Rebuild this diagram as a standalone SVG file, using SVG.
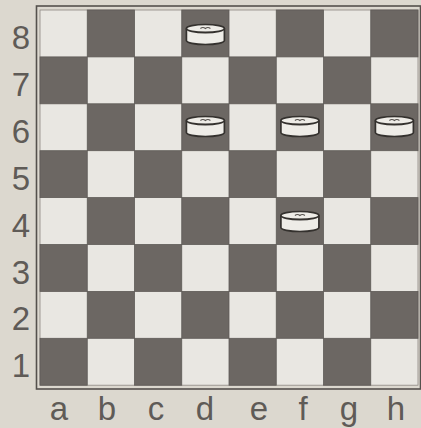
<svg xmlns="http://www.w3.org/2000/svg" width="421" height="428" viewBox="0 0 421 428">
<style>
.bg{fill:#dcd8cf}
.frame{fill:none;stroke:#55514d;stroke-width:1.6}
.lt{fill:#e9e7e2;stroke:#8d8883;stroke-width:0.8}
.dk{fill:#6c6763;stroke:#5f5b57;stroke-width:0.8}
.lbl{font-family:"Liberation Sans",Arial,sans-serif;font-size:33px;fill:#5f5b57;text-anchor:middle}
.pbody{fill:#eeece7;stroke:#34312e;stroke-width:1.7}
.pline{fill:none;stroke:#34312e;stroke-width:1.8}
.pmark{fill:none;stroke:#55514d;stroke-width:1.1}
</style>
<defs>
<g id="piece">
<path class="pbody" d="M-19,-6 A19,4 0 0 1 19,-6 L19,6 A19,4 0 0 1 -19,6 Z"/>
<path class="pline" d="M-19,-6 A19,4 0 0 0 19,-6"/>
<path class="pmark" d="M-5,-6 q2.5,-2 5,0 q2.5,-2 5,0"/>
</g>
</defs>
<rect class="bg" x="0" y="0" width="421" height="428"/>
<rect class="frame" x="36.5" y="6" width="384" height="383"/>
<g id="board">
<rect class="lt" x="40" y="10" width="378" height="375.2"/>
<!-- row 8 -->
<rect class="dk" x="87.25" y="10" width="47.25" height="46.9"/>
<rect class="dk" x="181.75" y="10" width="47.25" height="46.9"/>
<rect class="dk" x="276.25" y="10" width="47.25" height="46.9"/>
<rect class="dk" x="370.75" y="10" width="47.25" height="46.9"/>
<!-- row 7 -->
<rect class="dk" x="40" y="56.9" width="47.25" height="46.9"/>
<rect class="dk" x="134.5" y="56.9" width="47.25" height="46.9"/>
<rect class="dk" x="229" y="56.9" width="47.25" height="46.9"/>
<rect class="dk" x="323.5" y="56.9" width="47.25" height="46.9"/>
<!-- row 6 -->
<rect class="dk" x="87.25" y="103.8" width="47.25" height="46.9"/>
<rect class="dk" x="181.75" y="103.8" width="47.25" height="46.9"/>
<rect class="dk" x="276.25" y="103.8" width="47.25" height="46.9"/>
<rect class="dk" x="370.75" y="103.8" width="47.25" height="46.9"/>
<!-- row 5 -->
<rect class="dk" x="40" y="150.7" width="47.25" height="46.9"/>
<rect class="dk" x="134.5" y="150.7" width="47.25" height="46.9"/>
<rect class="dk" x="229" y="150.7" width="47.25" height="46.9"/>
<rect class="dk" x="323.5" y="150.7" width="47.25" height="46.9"/>
<!-- row 4 -->
<rect class="dk" x="87.25" y="197.6" width="47.25" height="46.9"/>
<rect class="dk" x="181.75" y="197.6" width="47.25" height="46.9"/>
<rect class="dk" x="276.25" y="197.6" width="47.25" height="46.9"/>
<rect class="dk" x="370.75" y="197.6" width="47.25" height="46.9"/>
<!-- row 3 -->
<rect class="dk" x="40" y="244.5" width="47.25" height="46.9"/>
<rect class="dk" x="134.5" y="244.5" width="47.25" height="46.9"/>
<rect class="dk" x="229" y="244.5" width="47.25" height="46.9"/>
<rect class="dk" x="323.5" y="244.5" width="47.25" height="46.9"/>
<!-- row 2 -->
<rect class="dk" x="87.25" y="291.4" width="47.25" height="46.9"/>
<rect class="dk" x="181.75" y="291.4" width="47.25" height="46.9"/>
<rect class="dk" x="276.25" y="291.4" width="47.25" height="46.9"/>
<rect class="dk" x="370.75" y="291.4" width="47.25" height="46.9"/>
<!-- row 1 -->
<rect class="dk" x="40" y="338.3" width="47.25" height="46.9"/>
<rect class="dk" x="134.5" y="338.3" width="47.25" height="46.9"/>
<rect class="dk" x="229" y="338.3" width="47.25" height="46.9"/>
<rect class="dk" x="323.5" y="338.3" width="47.25" height="46.9"/>
</g>
<g id="rank-labels">
<text class="lbl" x="21" y="49">8</text>
<text class="lbl" x="21" y="95.9">7</text>
<text class="lbl" x="21" y="142.8">6</text>
<text class="lbl" x="21" y="189.7">5</text>
<text class="lbl" x="21" y="236.6">4</text>
<text class="lbl" x="21" y="283.5">3</text>
<text class="lbl" x="21" y="330.4">2</text>
<text class="lbl" x="21" y="377.3">1</text>
</g>
<g id="file-labels">
<text class="lbl" x="59" y="420">a</text>
<text class="lbl" x="107" y="420">b</text>
<text class="lbl" x="156" y="420">c</text>
<text class="lbl" x="205" y="420">d</text>
<text class="lbl" x="259" y="420">e</text>
<text class="lbl" x="303" y="420">f</text>
<text class="lbl" x="349" y="420">g</text>
<text class="lbl" x="396" y="420">h</text>
</g>
<g id="piece-d8"><use href="#piece" x="205.4" y="34.5"/></g>
<g id="piece-d6"><use href="#piece" x="205.4" y="126.5"/></g>
<g id="piece-f6"><use href="#piece" x="299.9" y="126.5"/></g>
<g id="piece-h6"><use href="#piece" x="394.4" y="126.5"/></g>
<g id="piece-f4"><use href="#piece" x="299.9" y="221.5"/></g>
</svg>
